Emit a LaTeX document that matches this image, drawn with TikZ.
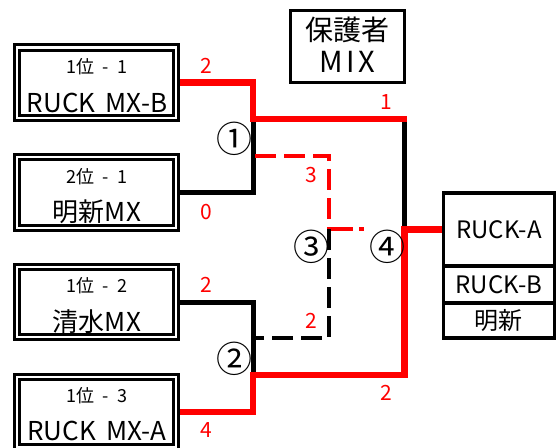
\documentclass[tikz,border=0pt]{standalone}
\usepackage{fontspec}
\setmainfont{Noto Sans CJK JP}
\newcommand\fsz[1]{\fontsize{#1}{#1}\selectfont}
\begin{document}
\begin{tikzpicture}[x=1pt,y=-1pt,
  redline/.style={draw=red, line width=6.5pt},
  blkline/.style={draw=black, line width=5pt},
  reddash/.style={draw=red, line width=4.3pt, dash pattern=on 21pt off 8pt},
  blkdash/.style={draw=black, line width=4.5pt, dash pattern=on 21pt off 8pt},
  teambox/.style={draw, fill=white, line width=3pt, double, double distance=2.2pt,
    minimum width=159.3pt, minimum height=70.4pt, inner sep=0pt},
  cell/.style={draw, fill=white, line width=3.3pt, minimum width=111.2pt, inner sep=0pt, font=\fsz{24}},
  rank/.style={font=\fsz{18}, inner sep=0pt},
  tname/.style={font=\fsz{26}, inner sep=0pt},
  score/.style={text=red, font=\fsz{21}, inner sep=0pt},
  circnum/.style={font=\fsz{36}, inner sep=0pt}]
\useasboundingbox (0,0) rectangle (558,448);
% coordinates of the bracket
\coordinate (m1) at (253,119);
\coordinate (m1d) at (255,156);
\coordinate (m2) at (253,375);
\coordinate (m2d) at (255,338);
\coordinate (m3top) at (329,156);
\coordinate (m3out) at (329,229);
\coordinate (m3bot) at (329,338);
\coordinate (m3end) at (367,229);
\coordinate (m4top) at (404.5,119);
\coordinate (m4topend) at (407,119);
\coordinate (m4out) at (404.5,229.5);
\coordinate (m4bot) at (404.5,375);
% centres of the team boxes
\path (96.5,82.7) coordinate (p1) (96.5,192.4) coordinate (p2)
      (96.5,302.1) coordinate (p3) (96.5,411.8) coordinate (p4);
% champion cells
\node[cell, minimum height=73pt] (cA) at (498.9,229.5) {RUCK-A};
\node[cell, minimum height=37pt] (cB) at (498.9,284.5) {RUCK-B};
\node[cell, minimum height=35pt] (cC) at (498.9,320.5) {明新};
% connectors
\draw[blkline] (p2) -| (m1);
\draw[blkline] (p3) -| (m2);
\draw[blkline] (m4top) -- (m4out);
\draw[reddash] (m1d) -- (m3top) -- (m3out);
\draw[blkdash] (m3out) -- (m3bot) -- (m2d);
\draw[draw=red, line width=4.3pt, dash pattern=on 22pt off 6pt on 5pt off 20pt] (m3out) ++(2,0) -- (m3end);
\draw[redline] (p1) -| (m1) -- (m4topend);
\draw[redline] (p4) -| (m2) -- (m4bot) -- (m4out) -- (cA.west);
% team boxes
\node[teambox] (t1) at (p1) {};
\node[teambox] (t2) at (p2) {};
\node[teambox] (t3) at (p3) {};
\node[teambox] (t4) at (p4) {};
\node[rank] (r1) at (97,66.5) {1位\hspace{0.45em}-\hspace{0.45em}1};
\node[tname] (n1) at (97,102.5) {RUCK\hspace{0.4em}MX-B};
\node[rank] (r2) at (97,176.2) {2位\hspace{0.45em}-\hspace{0.45em}1};
\node[tname] (n2) at (97,211.9) {明新MX};
\node[rank] (r3) at (97,285.9) {1位\hspace{0.45em}-\hspace{0.45em}2};
\node[tname] (n3) at (97,321.6) {清水MX};
\node[rank] (r4) at (97,395.6) {1位\hspace{0.45em}-\hspace{0.45em}3};
\node[tname] (n4) at (97,431.3) {RUCK\hspace{0.4em}MX-A};
% top box
\node[draw, line width=3.3pt, minimum width=113.6pt, minimum height=72pt, inner sep=0pt] (top) at (347.5,46.7) {};
\node[font=\fsz{28}, inner sep=0pt] (topa) at (347.5,30) {保護者};
\node[font=\fsz{29}, inner sep=0pt] (topb) at (347.5,62) {M\hspace{0.12em}I\hspace{0.12em}X};
% circled numbers
\node[circnum] (c1) at (234.7,138.5) {①};
\node[circnum] (c2) at (234.7,358.5) {②};
\node[circnum] (c3) at (311,246.7) {③};
\node[circnum] (c4) at (387,247) {④};
% scores
\node[score] (s1) at (206,65.5) {2};
\node[score] (s2) at (206,212) {0};
\node[score] (s3) at (206,285) {2};
\node[score] (s4) at (206,430.5) {4};
\node[score] (s5) at (386,102) {1};
\node[score] (s6) at (311,175) {3};
\node[score] (s7) at (311.5,320.5) {2};
\node[score] (s8) at (386.5,392.5) {2};
\end{tikzpicture}
\end{document}
